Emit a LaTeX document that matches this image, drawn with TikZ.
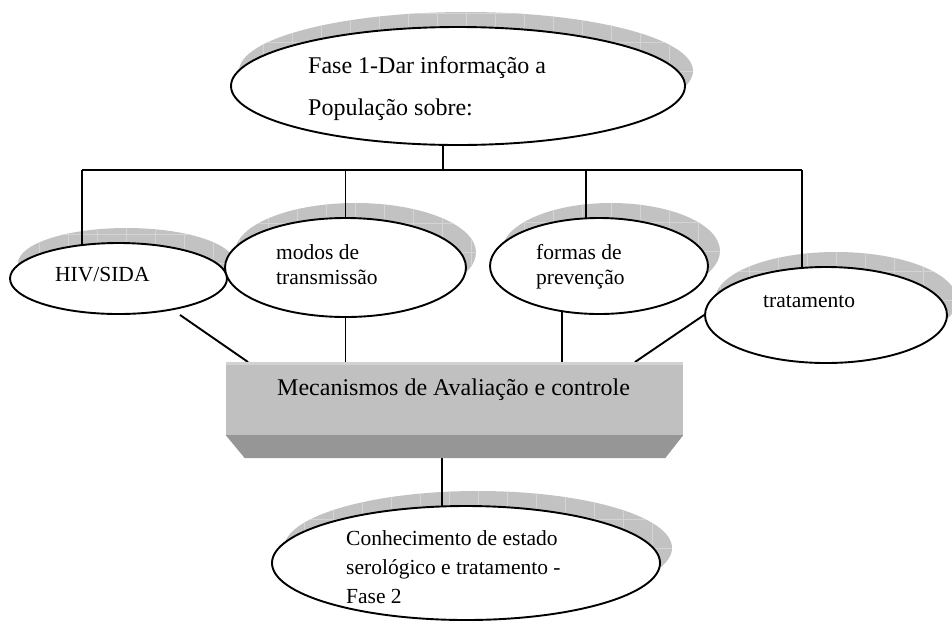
\documentclass[tikz,border=0pt]{standalone}
\usepackage{fontspec}
\setmainfont{Liberation Serif}
\usetikzlibrary{shapes.geometric,calc}
\definecolor{shadowgray}{RGB}{194,194,194}
\definecolor{gridgray}{RGB}{212,212,212}
\definecolor{boxlight}{RGB}{192,192,192}
\definecolor{boxdark}{RGB}{150,150,150}
\definecolor{boxedge}{RGB}{210,210,210}
\pgfdeclarelayer{shadowlayer}
\pgfdeclarelayer{linelayer}
\pgfsetlayers{shadowlayer,linelayer,main}
\tikzset{
  ell/.style={ellipse, draw, line width=1.9pt, fill=white, inner sep=0pt},
  shd/.style={ellipse, fill=shadowgray, inner sep=0pt,
    path picture={\draw[gridgray, line width=0.7pt, step=29pt]
      (path picture bounding box.south west) grid (path picture bounding box.north east);}},
  conn/.style={line width=1.9pt},
  lab/.style={anchor=base west, inner sep=0pt, font=\fontsize{21.5}{25}\selectfont},
  labbig/.style={anchor=base west, inner sep=0pt, font=\fontsize{24}{28}\selectfont},
}
\begin{document}
\begin{tikzpicture}[x=1pt,y=-1pt]
\useasboundingbox (0,0) rectangle (952,622);
% shadows
\begin{pgfonlayer}{shadowlayer}
\node[shd, minimum width=454pt, minimum height=118pt] (shTop) at (466,71) {};
\node[shd, minimum width=217pt, minimum height=71pt] (shHiv) at (126.5,263.5) {};
\node[shd, minimum width=241pt, minimum height=99pt] (shModos) at (355.5,252.5) {};
\node[shd, minimum width=218pt, minimum height=96pt] (shFormas) at (611,251) {};
\node[shd, minimum width=242pt, minimum height=96pt] (shTrat) at (836,300) {};
\node[shd, minimum width=388pt, minimum height=114pt] (shBot) at (478,548) {};
\end{pgfonlayer}
% ellipses
\node[ell, minimum width=454pt, minimum height=118pt] (top) at (458,86) {};
\node[ell, minimum width=217pt, minimum height=71pt] (hiv) at (118.5,278.5) {};
\node[ell, minimum width=241pt, minimum height=99pt] (modos) at (345.5,267.5) {};
\node[ell, minimum width=218pt, minimum height=96pt] (formas) at (599,266) {};
\node[ell, minimum width=242pt, minimum height=96pt] (trat) at (826,315) {};
\node[ell, minimum width=388pt, minimum height=114pt] (bot) at (466,563) {};
% box
\node[fill=boxlight, inner sep=0pt, minimum width=457pt, minimum height=73pt] (box) at (454.5,398.5) {};
\fill[boxedge] (box.north west) rectangle ($(box.north east)+(0,3)$);
\fill[boxdark] (box.south west) -- (box.south east) -- ($(box.south east)+(-18,23)$) -- ($(box.south west)+(19,23)$) -- cycle;
% coordinates
\coordinate (j) at (443,170);
\coordinate (hl) at (82,170);
\coordinate (hr) at (802,170);
\coordinate (f1) at (586,170);
\coordinate (b1) at (248,362);
\coordinate (b3) at (562,362);
\coordinate (b4) at (635,362);
\coordinate (b5) at (442,458);
% connectors
\begin{pgfonlayer}{linelayer}
\draw[conn] (j) -- (j |- top.center);
\draw[conn] (hl) -- (hr);
\draw[conn] (hl) -- (hl |- hiv.center);
\draw[conn] (modos.center |- hl) -- (modos.center);
\draw[conn] (f1) -- (f1 |- formas.center);
\draw[conn] (hr) -- (hr |- trat.center);
\draw[conn] ($(hiv.south)+(61.5,0)$) -- (b1);
\draw[conn] (modos.center) -- (modos.center |- b1);
\draw[conn] (b3) -- (b3 |- formas.center);
\draw[conn] (trat.west) -- (b4);
\draw[conn] (b5) -- (b5 |- bot.center);
\end{pgfonlayer}
% texts
\node[labbig] (topA) at (308,73) {Fase 1-Dar informação a};
\node[labbig] (topB) at (308,115) {População sobre:};
\node[lab] (hivT) at (55,281) {HIV/SIDA};
\node[lab] (modA) at (276,259) {modos de};
\node[lab] (modB) at (276,284) {transmissão};
\node[lab] (forA) at (536,259) {formas de};
\node[lab] (forB) at (536,284) {prevenção};
\node[lab] (tratT) at (763,307) {tratamento};
\node[labbig] (boxT) at (277,395) {Mecanismos de Avaliação e controle};
\node[lab] (botA) at (346,545) {Conhecimento de estado};
\node[lab] (botB) at (346,574) {serológico e tratamento -};
\node[lab] (botC) at (346,603) {Fase 2};
\end{tikzpicture}
\end{document}
